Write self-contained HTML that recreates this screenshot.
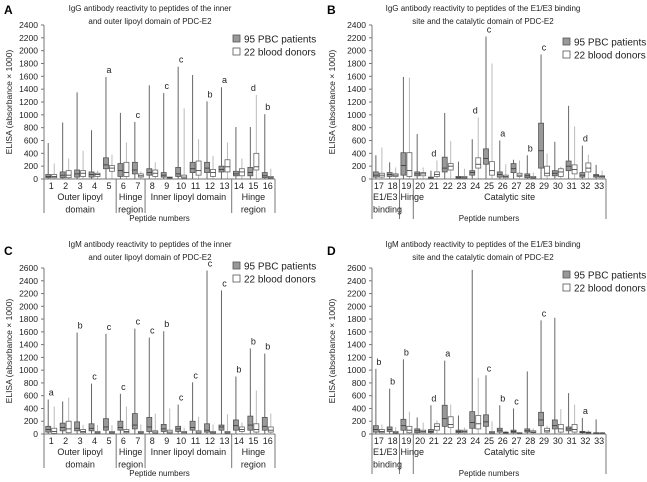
<!DOCTYPE html>
<html><head><meta charset="utf-8">
<style>
html,body{margin:0;padding:0;background:#fff;}
svg{display:block;font-family:"Liberation Sans",sans-serif;}
</style></head>
<body>
<svg id="fig" width="647" height="482" viewBox="0 0 647 482" xmlns="http://www.w3.org/2000/svg"></svg>
<script>
// ---------- DATA: each tuple is [max, q3, median, q1] ----------
const A_labels = [1,2,3,4,5,6,7,8,9,10,11,12,13,14,15,16];
const A_pat = [[560,70,40,20],[880,110,60,20],[1350,140,80,30],[760,110,70,30],[1590,330,220,160],[1030,240,130,40],[890,260,140,80],[1460,160,100,60],[1340,100,60,30],[1750,180,80,40],[1620,260,160,100],[1210,260,170,100],[1430,200,150,110],[810,120,80,50],[810,180,100,50],[1010,100,50,20]];
const A_don = [[240,70,40,20],[320,130,60,20],[440,130,90,40],[130,90,70,40],[380,210,170,120],[570,260,100,40],[120,80,50,30],[260,140,90,40],[40,30,20,10],[1100,60,30,10],[620,280,130,60],[360,150,100,40],[570,300,190,110],[320,160,110,50],[1310,400,190,140],[160,40,20,10]];
const A_sig = ["","","","","a","","c","","c","c","","b","a","","d","b"];
const A_yticks = [0,200,400,600,800,1000,1200,1400,1600,1800,2000,2200,2400];

const B_labels = [17,18,19,20,21,22,23,24,25,26,27,28,29,30,31,32,33];
const B_pat = [[370,110,60,30],[260,100,70,40],[1590,410,210,60],[700,110,80,50],[130,30,15,5],[1030,340,170,110],[270,40,20,10],[620,130,100,60],[2220,470,320,230],[600,110,70,30],[300,240,160,100],[370,80,50,20],[1940,870,440,170],[580,130,90,50],[1140,280,200,130],[520,100,60,30],[220,70,50,30]];
const B_don = [[490,90,60,30],[180,80,60,40],[1580,410,130,40],[180,100,80,50],[290,110,70,40],[590,240,200,140],[160,40,20,10],[960,330,230,170],[1800,270,130,60],[230,60,40,20],[290,90,60,40],[100,40,20,10],[400,200,90,50],[190,160,110,40],[820,220,150,80],[380,250,170,110],[130,50,40,20]];
const B_sig = ["","","","","d","","","d","c","a","","b","c","","","d",""];
const B_yticks = [0,200,400,600,800,1000,1200,1400,1600,1800,2000,2200,2400];

const C_labels = [1,2,3,4,5,6,7,8,9,10,11,12,13,14,15,16];
const C_pat = [[540,120,70,30],[510,170,100,50],[1590,190,90,50],[790,160,90,50],[1570,240,110,60],[630,200,100,60],[1650,320,140,80],[1510,260,110,40],[1610,150,80,40],[460,120,80,40],[810,200,100,60],[2560,160,60,30],[2250,140,110,60],[900,220,130,60],[1340,280,140,60],[1260,260,120,60]];
const C_don = [[430,90,40,10],[570,200,80,20],[140,70,40,20],[140,40,20,10],[140,40,20,10],[430,70,40,20],[150,40,20,10],[320,50,30,10],[400,60,30,10],[100,40,20,5],[270,50,30,10],[150,40,20,10],[310,40,20,10],[180,110,70,40],[680,160,70,30],[320,110,60,30]];
const C_sig = ["a","","b","c","c","c","c","c","b","c","c","c","c","b","b","b"];
const C_yticks = [0,200,400,600,800,1000,1200,1400,1600,1800,2000,2200,2400,2600];

const D_labels = [17,18,19,20,21,22,23,24,25,26,27,28,29,30,31,32,33];
const D_pat = [[1020,130,70,30],[710,110,70,40],[1170,230,130,60],[260,80,50,20],[450,70,40,20],[1150,450,240,120],[290,60,40,20],[2570,350,180,90],[920,300,190,120],[450,90,60,30],[400,60,40,20],[980,80,50,30],[1780,340,220,130],[1820,220,130,80],[640,110,80,50],[250,40,30,20],[230,20,10,5]];
const D_don = [[150,70,40,20],[110,40,20,10],[350,120,60,20],[180,60,40,20],[210,160,120,60],[460,270,150,100],[100,60,40,20],[880,290,160,80],[200,40,20,10],[50,30,20,10],[30,20,10,5],[90,50,30,20],[130,90,50,30],[390,150,80,30],[460,150,70,30],[60,30,20,10],[30,20,10,5]];
const D_sig = ["b","b","b","","d","a","","","c","b","c","","c","","","a",""];
const D_yticks = [0,200,400,600,800,1000,1200,1400,1600,1800,2000,2200,2400,2600];

// ---------- drawing ----------
const NS="http://www.w3.org/2000/svg";
const svg=document.getElementById('fig');
function mk(tag,attrs,parent,text){
  const e=document.createElementNS(NS,tag);
  for(const k in attrs) e.setAttribute(k,attrs[k]);
  if(text!==undefined) e.textContent=text;
  (parent||svg).appendChild(e);
  return e;
}
function panel(cfg){
  const g=mk('g',{});
  
  
  const n=cfg.labels.length;
  const cw=(cfg.x1-cfg.x0)/n;
  const ymax=cfg.yticks[cfg.yticks.length-1];
  const Y=v=>cfg.y0-(v/ymax)*(cfg.y0-cfg.yTop);
  const X=i=>cfg.x0+cw*(i+0.5);
  const L=mk('text',{x:cfg.ox+4,y:cfg.oy+14,'font-size':12,'font-weight':'bold'},g,cfg.letter);
  
  
  cfg.title.forEach((t,k)=>{
    const e=mk('text',{x:cfg.tx,y:cfg.ty+k*13,'font-size':8,'text-anchor':'middle',fill:'#222'},g,t);
    
    
  });
  const ya=mk('line',{x1:cfg.x0,y1:cfg.y0,x2:cfg.x0,y2:cfg.yTop,stroke:'#777','stroke-width':1},g);
  
  
  cfg.yticks.forEach(v=>{
    mk('line',{x1:cfg.x0-3,y1:Y(v),x2:cfg.x0,y2:Y(v),stroke:'#777'},g);
    const t=mk('text',{x:cfg.x0-6,y:Y(v)+3,'font-size':8.5,'text-anchor':'end',fill:'#222'},g,String(v));
    
    
  });
  const yt=mk('text',{x:0,y:0,'font-size':8.5,'text-anchor':'middle',fill:'#222',transform:`translate(${cfg.ox+12},${(cfg.y0+cfg.yTop)/2}) rotate(-90)`},g,'ELISA (absorbance × 1000)');
  
  
  for(let i=0;i<n;i++){
    const c=X(i);
    [[cfg.pat[i],c-3,'#999','#666','#555'],[cfg.don[i],c+3,'#fff','#bbb','#666']].forEach(([d,bx,fill,wc,sc],s)=>{
      const w=mk('line',{x1:bx,y1:Y(d[0]),x2:bx,y2:cfg.y0,stroke:wc,'stroke-width':1},g);
      
      
      const b=mk('rect',{x:bx-2.5,y:Y(d[1]),width:5,height:Math.max(0.5,Y(d[3])-Y(d[1])),fill:fill,stroke:sc,'stroke-width':0.8},g);
      
      
      mk('line',{x1:bx-2.5,y1:Y(d[2]),x2:bx+2.5,y2:Y(d[2]),stroke:'#333','stroke-width':0.8},g);
    });
    if(cfg.sig[i]){
      const m=Math.max(cfg.pat[i][0],cfg.don[i][0]);
      const s=mk('text',{x:c,y:Y(m)-4,'font-size':9,'text-anchor':'middle',fill:'#222'},g,cfg.sig[i]);
      
      
    }
    const xl=mk('text',{x:c,y:cfg.y0+10,'font-size':9,'text-anchor':'middle',fill:'#222'},g,String(cfg.labels[i]));
    
    
  }
  const xa=mk('line',{x1:cfg.x0,y1:cfg.y0,x2:cfg.x1,y2:cfg.y0,stroke:'#777'},g);
  
  
  cfg.seps.forEach(([k,bottom])=>{
    mk('line',{x1:cfg.x0+k*cw,y1:cfg.y0,x2:cfg.x0+k*cw,y2:cfg.y0+bottom,stroke:'#777'},g);
  });
  cfg.groups.forEach(([a,b,lines,anchor])=>{
    lines.forEach((t,k)=>{
      const e=mk('text',{x:anchor==='start'?cfg.x0+cw*a+1:cfg.x0+cw*(a+b)/2,y:cfg.y0+21+k*12.5,'font-size':9,'text-anchor':anchor||'middle',fill:'#222'},g,t);
      
      
    });
  });
  const xt=mk('text',{x:(cfg.x0+cfg.x1)/2,y:cfg.y0+42,'font-size':8,'text-anchor':'middle',fill:'#222'},g,'Peptide numbers');
  
  
  [['95 PBC patients','#999'],['22 blood donors','#fff']].forEach(([t,f],k)=>{
    const lg=mk('g',{},g);
    
    
    mk('rect',{x:cfg.lx,y:cfg.ly+k*13,width:7,height:7,fill:f,stroke:'#555','stroke-width':0.8},lg);
    mk('text',{x:cfg.lx+11,y:cfg.ly+k*13+7.5,'font-size':10,fill:'#222'},lg,t);
  });
}
const lipGroups=[[0,5,['Outer lipoyl','domain']],[5,7,['Hinge','region']],[7,13,['Inner lipoyl domain']],[13,16,['Hinge','region']]];
const lipSeps=[[0,34],[5,34],[7,34],[13,34],[16,34]];
const catGroups=[[0,2,['E1/E3','binding'],'start'],[2,3,['Hinge'],'start'],[3,17,['Catalytic site']]];
const catSeps=[[0,40],[2,40],[3,40],[17,40]];
panel({name:'panel-a',letter:'A',ox:0,oy:0,x0:44,x1:275,y0:179,yTop:25,labels:A_labels,pat:A_pat,don:A_don,sig:A_sig,yticks:A_yticks,
  title:['IgG antibody reactivity to peptides of the inner','and outer lipoyl domain of PDC-E2'],tx:150,ty:11,lx:233,ly:35,groups:lipGroups,seps:lipSeps});
panel({name:'panel-b',letter:'B',ox:323,oy:0,x0:372,x1:606,y0:179,yTop:25,labels:B_labels,pat:B_pat,don:B_don,sig:B_sig,yticks:B_yticks,
  title:['IgG antibody reactivity to peptides of the E1/E3 binding','site and the catalytic domain of PDC-E2'],tx:483,ty:11,lx:563,ly:38,groups:catGroups,seps:catSeps});
panel({name:'panel-c',letter:'C',ox:0,oy:241,x0:44,x1:275,y0:434,yTop:268,labels:C_labels,pat:C_pat,don:C_don,sig:C_sig,yticks:C_yticks,
  title:['IgM antibody reactivity to peptides of the inner','and outer lipoyl domain of PDC-E2'],tx:150,ty:247,lx:233,ly:262,groups:lipGroups,seps:lipSeps});
panel({name:'panel-d',letter:'D',ox:323,oy:241,x0:372,x1:606,y0:434,yTop:268,labels:D_labels,pat:D_pat,don:D_don,sig:D_sig,yticks:D_yticks,
  title:['IgM antibody reactivity to peptides of the E1/E3 binding','site and the catalytic domain of PDC-E2'],tx:483,ty:247,lx:563,ly:271,groups:catGroups,seps:catSeps});
</script>
</body></html>
